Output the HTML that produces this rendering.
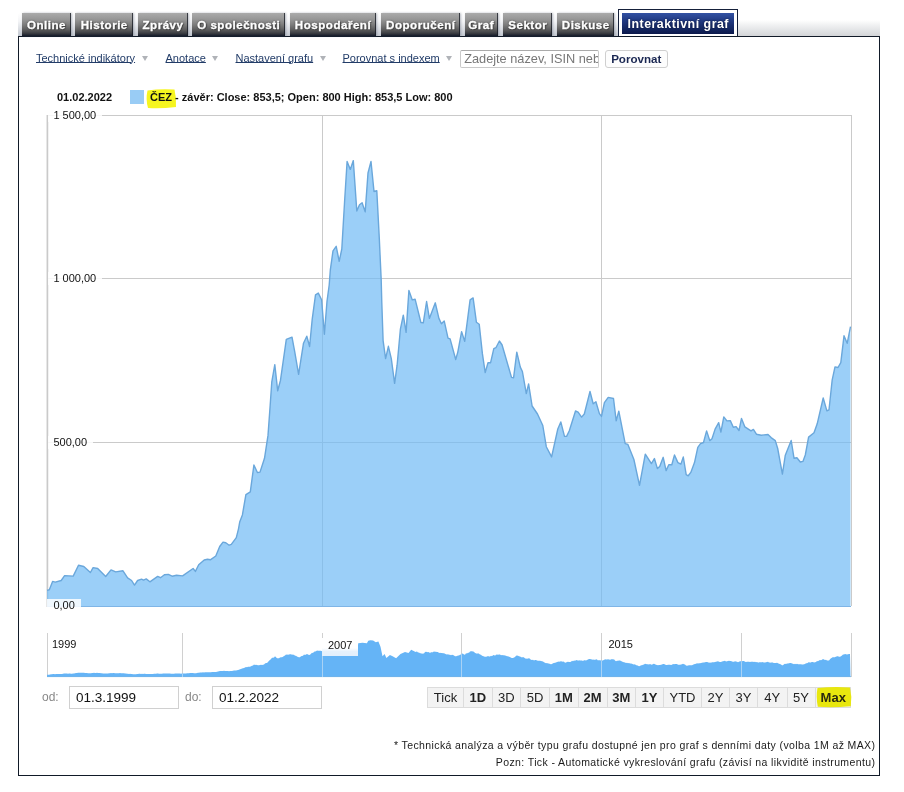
<!DOCTYPE html>
<html lang="cs"><head><meta charset="utf-8"><title>Interaktivní graf</title>
<style>
html,body{margin:0;padding:0;background:#fff;}
body{width:904px;height:792px;position:relative;overflow:hidden;will-change:transform;font-family:"Liberation Sans",sans-serif;color:#000;}
.abs{position:absolute;}
.tabstrip{position:absolute;left:18px;top:13px;width:600px;height:23px;background:linear-gradient(#fff 0%,#f4f5f7 35%,#c3c8d0 100%);}
.tab{position:absolute;top:13px;height:23px;box-sizing:border-box;background:linear-gradient(#ababab 0%,#969696 28%,#7b7b7b 52%,#5a5a5b 74%,#3b3d42 88%,#141a29 100%);
 color:#fff;font-weight:bold;font-size:11.6px;letter-spacing:.5px;padding-left:1.5px;line-height:23.5px;-webkit-text-stroke:.3px #fff;text-align:center;white-space:nowrap;text-shadow:0 0 2px #333,1px 1px 1px #444;
 border-right:1px solid rgba(20,24,34,.75);box-shadow:1px 0 2px rgba(60,70,90,.35);}
.tabgrad{position:absolute;left:738px;top:20px;width:142px;height:16px;background:linear-gradient(#fff 0%,#f1f2f3 30%,#d3d5d8 100%);}
.acttab{position:absolute;left:618px;top:9px;width:120px;height:27px;box-sizing:border-box;border:1px solid #15203a;border-bottom:none;background:#fff;}
.acttab i{position:absolute;left:3px;top:3px;right:3px;bottom:2px;background:linear-gradient(#3352a3 0%,#20387f 40%,#0c1a4c 100%);}
.acttab span{position:absolute;left:0;right:0;top:4px;text-align:center;color:#fff;font-weight:bold;font-size:12.4px;letter-spacing:.5px;padding-left:.5px;line-height:21.5px;white-space:nowrap;text-shadow:0 0 2px #0a1230;}
.panel{position:absolute;left:18px;top:36px;width:862px;height:740px;box-sizing:border-box;border:1px solid #111a28;background:#fff;}
.lnk{position:absolute;top:51px;font-size:11px;line-height:14px;color:#223c68;text-decoration:underline;text-decoration-thickness:1px;text-underline-offset:0px;white-space:nowrap;}
.arr{position:absolute;top:56px;width:0;height:0;border-left:3.5px solid transparent;border-right:3.5px solid transparent;border-top:5px solid #b0b3b8;}
.inp{position:absolute;left:460px;top:50px;width:138.5px;height:18px;box-sizing:border-box;border:1px solid #c9c9c9;border-top-color:#aaa;border-radius:2px;background:#fff;font-size:12.75px;line-height:16px;color:#777;padding-left:3.2px;white-space:nowrap;overflow:hidden;}
.cmp{position:absolute;left:604.5px;top:50px;width:63.5px;height:18px;box-sizing:border-box;border:1px solid #cfcfcf;border-radius:3px;background:#fdfdfd;font-size:11.6px;font-weight:bold;line-height:16px;color:#1a2752;text-align:center;}
.leg{position:absolute;top:90px;font-size:11px;font-weight:bold;line-height:14px;white-space:nowrap;color:#111;}
.yl{position:absolute;left:48.4px;font-size:11px;line-height:13px;background:rgba(255,255,255,.85);padding:0 6px 0 5px;white-space:nowrap;color:#111;}
.nl{position:absolute;font-size:11px;line-height:15px;color:#111;white-space:nowrap;}
.dl{position:absolute;top:690px;font-size:12px;line-height:15px;color:#888;}
.di{position:absolute;top:686px;height:23px;width:110px;box-sizing:border-box;border:1px solid #d0d0d0;background:#fff;font-size:13.5px;line-height:21px;padding-left:6px;color:#111;}
.btn{position:absolute;top:687px;height:21px;box-sizing:border-box;border:1px solid #dcdcdc;border-left:none;background:#f3f3f3;font-size:13px;line-height:19px;text-align:center;color:#222;}
.btn.b{font-weight:bold;}
.foot{position:absolute;right:28.6px;font-size:10.5px;letter-spacing:.39px;line-height:13px;color:#1a1a1a;white-space:nowrap;text-align:right;}
</style></head><body>
<div class="tabstrip"></div>
<div class="tabgrad"></div>
<div class="panel"></div>
<div class="tab" style="left:22px;width:48.5px"><span>Online</span></div>
<div class="tab" style="left:75px;width:58px"><span>Historie</span></div>
<div class="tab" style="left:138px;width:49.5px"><span>Zprávy</span></div>
<div class="tab" style="left:192px;width:93px"><span>O společnosti</span></div>
<div class="tab" style="left:289.5px;width:86.5px"><span>Hospodaření</span></div>
<div class="tab" style="left:381px;width:79px"><span>Doporučení</span></div>
<div class="tab" style="left:464.5px;width:33.0px"><span>Graf</span></div>
<div class="tab" style="left:503px;width:49px"><span>Sektor</span></div>
<div class="tab" style="left:557px;width:57px"><span>Diskuse</span></div>

<div class="acttab"><i></i><span>Interaktivní graf</span></div>

<div class="lnk" id="l1" style="left:36px">Technické indikátory</div><div class="arr" style="left:142px"></div>
<div class="lnk" id="l2" style="left:165.5px">Anotace</div><div class="arr" style="left:212px"></div>
<div class="lnk" id="l3" style="left:235.5px">Nastavení grafu</div><div class="arr" style="left:320px"></div>
<div class="lnk" id="l4" style="left:342.5px">Porovnat s indexem</div><div class="arr" style="left:446px"></div>
<div class="inp">Zadejte název, ISIN nebo ticker</div>
<div class="cmp">Porovnat</div>

<svg class="abs" style="left:0;top:0" width="904" height="792" viewBox="0 0 904 792">
 <!-- grid -->
 <g stroke="#cacaca" stroke-width="1" fill="none" shape-rendering="crispEdges">
  <line x1="48" y1="115.5" x2="851" y2="115.5"/>
  <line x1="48" y1="278.5" x2="851" y2="278.5"/>
  <line x1="48" y1="442.5" x2="851" y2="442.5"/>
  <line x1="322.5" y1="115" x2="322.5" y2="606"/>
  <line x1="601.5" y1="115" x2="601.5" y2="606"/>
  <line x1="851.5" y1="115" x2="851.5" y2="606"/>
 </g>
 <line x1="47.4" y1="115" x2="47.4" y2="607" stroke="#cacaca" stroke-width="1.7"/>
 <path d="M47.0,590.4 L49.3,589.8 L52.6,581.4 L55.3,582.2 L61.2,580.5 L64.6,575.6 L73.2,576.1 L78.5,565.2 L83.8,566.5 L90.4,572.5 L93.1,567.6 L97.7,568.5 L105.7,576.5 L111.0,569.9 L115.7,571.9 L123.0,570.8 L127.6,577.8 L131.6,580.5 L134.5,585.1 L137.6,580.5 L141.6,579.2 L143.5,580.1 L146.2,578.9 L149.9,581.8 L157.7,576.4 L160.5,577.7 L164.4,574.8 L168.3,574.4 L172.1,576.2 L176.5,575.3 L182.6,575.9 L193.1,568.5 L195.4,571.4 L198.7,564.8 L204.2,560.0 L207.5,559.3 L210.3,559.8 L215.8,556.0 L219.7,546.5 L223.0,542.1 L225.8,542.7 L229.1,545.2 L231.3,544.3 L236.3,537.7 L238.5,528.8 L239.7,522.0 L242.4,514.9 L245.9,494.6 L250.3,491.9 L253.9,465.0 L257.4,472.5 L260.0,472.1 L264.5,458.3 L268.0,435.4 L270.2,405.0 L271.8,381.8 L274.8,364.6 L277.7,390.8 L280.5,380.2 L286.3,339.4 L292.0,337.1 L294.8,352.2 L298.6,374.4 L303.5,343.2 L306.8,336.2 L309.6,346.5 L312.2,319.4 L315.5,294.8 L318.3,293.1 L321.6,299.7 L324.4,334.2 L327.0,301.3 L329.2,285.0 L330.3,270.2 L333.0,250.8 L336.2,246.3 L339.2,261.4 L341.8,249.0 L344.5,203.0 L347.1,161.5 L350.3,169.4 L353.3,160.6 L356.8,211.0 L359.5,204.8 L362.1,202.7 L365.2,211.9 L368.0,173.0 L371.0,161.5 L374.0,191.5 L376.8,190.7 L379.3,238.4 L381.2,280.0 L381.8,302.8 L383.1,340.6 L385.6,358.6 L388.4,346.3 L391.3,358.6 L394.6,383.3 L397.1,365.2 L400.4,329.1 L403.3,315.1 L406.1,332.4 L408.9,290.5 L412.3,299.9 L415.1,299.2 L420.9,322.5 L423.3,322.9 L426.6,301.5 L429.4,318.4 L435.3,302.8 L438.9,318.4 L441.4,323.8 L444.2,320.9 L448.0,338.1 L450.1,338.9 L455.7,359.5 L457.8,352.1 L461.6,331.6 L464.7,341.4 L470.1,299.9 L473.1,297.9 L476.4,322.2 L479.2,324.2 L482.4,353.7 L485.2,372.6 L488.0,362.7 L490.6,362.7 L493.8,348.6 L495.9,347.7 L499.4,341.0 L502.1,345.0 L511.5,377.4 L513.6,377.7 L516.8,352.1 L520.3,367.1 L522.4,371.5 L526.3,393.6 L528.6,383.9 L532.1,406.0 L537.5,414.0 L542.8,425.5 L546.3,446.7 L551.6,456.9 L557.8,429.0 L560.8,421.9 L564.5,436.4 L566.6,436.4 L569.3,430.8 L575.5,411.0 L578.1,412.2 L581.6,417.1 L584.3,414.0 L590.0,391.5 L593.2,403.8 L595.9,401.7 L599.4,413.6 L601.5,416.4 L604.4,402.7 L608.2,397.4 L613.5,398.5 L616.2,420.9 L618.8,411.1 L625.2,443.6 L627.9,444.4 L633.9,459.5 L639.5,485.3 L645.3,454.2 L651.4,463.6 L654.4,458.5 L657.4,468.6 L659.7,466.4 L663.2,457.3 L666.1,470.6 L668.8,464.8 L671.8,464.8 L674.5,455.0 L677.9,462.6 L680.9,464.1 L683.3,457.0 L686.2,474.7 L688.2,475.8 L690.8,472.4 L694.5,462.6 L697.8,447.3 L700.5,443.7 L703.5,442.5 L706.6,430.9 L709.8,440.6 L712.0,438.8 L715.1,429.1 L718.7,422.7 L720.9,432.1 L723.8,416.9 L726.9,420.9 L730.3,420.6 L733.3,427.2 L736.1,426.6 L739.0,430.5 L741.5,418.4 L744.9,426.9 L751.0,430.9 L753.4,429.4 L756.4,434.2 L761.3,435.2 L768.0,434.5 L771.1,437.6 L775.3,440.6 L777.7,448.5 L782.4,474.1 L785.3,455.2 L791.2,440.5 L794.0,458.2 L796.9,457.7 L800.3,462.0 L802.9,461.4 L805.3,455.0 L808.6,437.1 L814.0,432.8 L817.2,423.8 L823.2,398.0 L826.9,410.9 L829.0,409.8 L832.2,379.8 L835.0,366.9 L838.0,367.5 L840.8,362.6 L844.0,335.8 L847.2,343.3 L850.5,326.7 L850.5,606.0 L47.0,606.0 Z" fill="#70baf5" fill-opacity="0.7" stroke="none"/>
 <path d="M47.0,590.4 L49.3,589.8 L52.6,581.4 L55.3,582.2 L61.2,580.5 L64.6,575.6 L73.2,576.1 L78.5,565.2 L83.8,566.5 L90.4,572.5 L93.1,567.6 L97.7,568.5 L105.7,576.5 L111.0,569.9 L115.7,571.9 L123.0,570.8 L127.6,577.8 L131.6,580.5 L134.5,585.1 L137.6,580.5 L141.6,579.2 L143.5,580.1 L146.2,578.9 L149.9,581.8 L157.7,576.4 L160.5,577.7 L164.4,574.8 L168.3,574.4 L172.1,576.2 L176.5,575.3 L182.6,575.9 L193.1,568.5 L195.4,571.4 L198.7,564.8 L204.2,560.0 L207.5,559.3 L210.3,559.8 L215.8,556.0 L219.7,546.5 L223.0,542.1 L225.8,542.7 L229.1,545.2 L231.3,544.3 L236.3,537.7 L238.5,528.8 L239.7,522.0 L242.4,514.9 L245.9,494.6 L250.3,491.9 L253.9,465.0 L257.4,472.5 L260.0,472.1 L264.5,458.3 L268.0,435.4 L270.2,405.0 L271.8,381.8 L274.8,364.6 L277.7,390.8 L280.5,380.2 L286.3,339.4 L292.0,337.1 L294.8,352.2 L298.6,374.4 L303.5,343.2 L306.8,336.2 L309.6,346.5 L312.2,319.4 L315.5,294.8 L318.3,293.1 L321.6,299.7 L324.4,334.2 L327.0,301.3 L329.2,285.0 L330.3,270.2 L333.0,250.8 L336.2,246.3 L339.2,261.4 L341.8,249.0 L344.5,203.0 L347.1,161.5 L350.3,169.4 L353.3,160.6 L356.8,211.0 L359.5,204.8 L362.1,202.7 L365.2,211.9 L368.0,173.0 L371.0,161.5 L374.0,191.5 L376.8,190.7 L379.3,238.4 L381.2,280.0 L381.8,302.8 L383.1,340.6 L385.6,358.6 L388.4,346.3 L391.3,358.6 L394.6,383.3 L397.1,365.2 L400.4,329.1 L403.3,315.1 L406.1,332.4 L408.9,290.5 L412.3,299.9 L415.1,299.2 L420.9,322.5 L423.3,322.9 L426.6,301.5 L429.4,318.4 L435.3,302.8 L438.9,318.4 L441.4,323.8 L444.2,320.9 L448.0,338.1 L450.1,338.9 L455.7,359.5 L457.8,352.1 L461.6,331.6 L464.7,341.4 L470.1,299.9 L473.1,297.9 L476.4,322.2 L479.2,324.2 L482.4,353.7 L485.2,372.6 L488.0,362.7 L490.6,362.7 L493.8,348.6 L495.9,347.7 L499.4,341.0 L502.1,345.0 L511.5,377.4 L513.6,377.7 L516.8,352.1 L520.3,367.1 L522.4,371.5 L526.3,393.6 L528.6,383.9 L532.1,406.0 L537.5,414.0 L542.8,425.5 L546.3,446.7 L551.6,456.9 L557.8,429.0 L560.8,421.9 L564.5,436.4 L566.6,436.4 L569.3,430.8 L575.5,411.0 L578.1,412.2 L581.6,417.1 L584.3,414.0 L590.0,391.5 L593.2,403.8 L595.9,401.7 L599.4,413.6 L601.5,416.4 L604.4,402.7 L608.2,397.4 L613.5,398.5 L616.2,420.9 L618.8,411.1 L625.2,443.6 L627.9,444.4 L633.9,459.5 L639.5,485.3 L645.3,454.2 L651.4,463.6 L654.4,458.5 L657.4,468.6 L659.7,466.4 L663.2,457.3 L666.1,470.6 L668.8,464.8 L671.8,464.8 L674.5,455.0 L677.9,462.6 L680.9,464.1 L683.3,457.0 L686.2,474.7 L688.2,475.8 L690.8,472.4 L694.5,462.6 L697.8,447.3 L700.5,443.7 L703.5,442.5 L706.6,430.9 L709.8,440.6 L712.0,438.8 L715.1,429.1 L718.7,422.7 L720.9,432.1 L723.8,416.9 L726.9,420.9 L730.3,420.6 L733.3,427.2 L736.1,426.6 L739.0,430.5 L741.5,418.4 L744.9,426.9 L751.0,430.9 L753.4,429.4 L756.4,434.2 L761.3,435.2 L768.0,434.5 L771.1,437.6 L775.3,440.6 L777.7,448.5 L782.4,474.1 L785.3,455.2 L791.2,440.5 L794.0,458.2 L796.9,457.7 L800.3,462.0 L802.9,461.4 L805.3,455.0 L808.6,437.1 L814.0,432.8 L817.2,423.8 L823.2,398.0 L826.9,410.9 L829.0,409.8 L832.2,379.8 L835.0,366.9 L838.0,367.5 L840.8,362.6 L844.0,335.8 L847.2,343.3 L850.5,326.7" fill="none" stroke="#6aa7db" stroke-width="1.4" stroke-linejoin="round"/>
 <line x1="47" y1="606.5" x2="851" y2="606.5" stroke="#7fb5e6" stroke-width="1"/>
 <!-- navigator -->
 <g stroke="#d0d0d0" stroke-width="1" fill="none" shape-rendering="crispEdges">
  <line x1="47.5" y1="633" x2="47.5" y2="677"/>
  <line x1="182.5" y1="633" x2="182.5" y2="677"/>
  <line x1="322.5" y1="633" x2="322.5" y2="677"/>
  <line x1="461.5" y1="633" x2="461.5" y2="677"/>
  <line x1="601.5" y1="633" x2="601.5" y2="677"/>
  <line x1="741.5" y1="633" x2="741.5" y2="677"/>
  <line x1="851.5" y1="633" x2="851.5" y2="677"/>
 </g>
 <clipPath id="nc"><path d="M47.0,674.76 L48.0,674.76 L49.0,674.68 L50.0,674.60 L51.0,674.34 L52.0,674.16 L53.0,674.09 L54.0,674.05 L55.0,674.14 L56.0,674.08 L57.0,674.11 L58.0,674.08 L59.0,674.01 L60.0,673.93 L61.0,674.01 L62.0,673.90 L63.0,673.72 L64.0,673.55 L65.0,673.54 L66.0,673.58 L67.0,673.48 L68.0,673.65 L69.0,673.51 L70.0,673.61 L71.0,673.64 L72.0,673.65 L73.0,673.62 L74.0,673.40 L75.0,673.35 L76.0,673.11 L77.0,672.94 L78.0,672.83 L79.0,672.72 L80.0,672.84 L81.0,672.86 L82.0,672.85 L83.0,672.77 L84.0,672.85 L85.0,672.95 L86.0,672.96 L87.0,673.06 L88.0,673.17 L89.0,673.14 L90.0,673.24 L91.0,673.26 L92.0,673.05 L93.0,672.92 L94.0,672.85 L95.0,672.89 L96.0,673.00 L97.0,672.87 L98.0,673.08 L99.0,673.10 L100.0,673.12 L101.0,673.31 L102.0,673.33 L103.0,673.49 L104.0,673.46 L105.0,673.52 L106.0,673.58 L107.0,673.43 L108.0,673.43 L109.0,673.26 L110.0,673.18 L111.0,673.08 L112.0,673.14 L113.0,673.10 L114.0,673.11 L115.0,673.24 L116.0,673.22 L117.0,673.32 L118.0,673.19 L119.0,673.19 L120.0,673.11 L121.0,673.13 L122.0,673.22 L123.0,673.19 L124.0,673.26 L125.0,673.50 L126.0,673.54 L127.0,673.71 L128.0,673.81 L129.0,673.88 L130.0,673.82 L131.0,673.97 L132.0,674.04 L133.0,674.14 L134.0,674.20 L135.0,674.32 L136.0,674.15 L137.0,674.01 L138.0,673.88 L139.0,673.86 L140.0,673.83 L141.0,673.89 L142.0,673.87 L143.0,673.92 L144.0,673.84 L145.0,673.79 L146.0,673.88 L147.0,673.92 L148.0,673.97 L149.0,674.04 L150.0,674.05 L151.0,673.98 L152.0,673.97 L153.0,673.96 L154.0,673.84 L155.0,673.79 L156.0,673.70 L157.0,673.58 L158.0,673.60 L159.0,673.66 L160.0,673.68 L161.0,673.66 L162.0,673.71 L163.0,673.50 L164.0,673.46 L165.0,673.42 L166.0,673.42 L167.0,673.49 L168.0,673.48 L169.0,673.55 L170.0,673.50 L171.0,673.63 L172.0,673.67 L173.0,673.64 L174.0,673.63 L175.0,673.58 L176.0,673.61 L177.0,673.62 L178.0,673.60 L179.0,673.62 L180.0,673.58 L181.0,673.65 L182.0,673.51 L183.0,673.53 L184.0,673.56 L185.0,673.48 L186.0,673.41 L187.0,673.35 L188.0,673.34 L189.0,673.15 L190.0,673.06 L191.0,673.11 L192.0,673.05 L193.0,673.07 L194.0,673.15 L195.0,673.20 L196.0,673.16 L197.0,672.89 L198.0,672.87 L199.0,672.77 L200.0,672.49 L201.0,672.52 L202.0,672.53 L203.0,672.37 L204.0,672.42 L205.0,672.28 L206.0,672.15 L207.0,672.16 L208.0,672.20 L209.0,672.32 L210.0,672.31 L211.0,672.32 L212.0,672.12 L213.0,672.12 L214.0,672.01 L215.0,672.06 L216.0,672.01 L217.0,671.66 L218.0,671.41 L219.0,671.25 L220.0,671.09 L221.0,670.98 L222.0,670.89 L223.0,670.94 L224.0,670.87 L225.0,670.93 L226.0,671.06 L227.0,671.12 L228.0,671.10 L229.0,671.17 L230.0,671.02 L231.0,670.91 L232.0,670.97 L233.0,670.72 L234.0,670.59 L235.0,670.50 L236.0,670.58 L237.0,670.37 L238.0,670.04 L239.0,669.67 L240.0,669.29 L241.0,668.91 L242.0,668.59 L243.0,668.24 L244.0,667.93 L245.0,667.38 L246.0,666.88 L247.0,667.19 L248.0,666.85 L249.0,666.67 L250.0,666.69 L251.0,666.26 L252.0,665.80 L253.0,665.38 L254.0,664.49 L255.0,664.94 L256.0,664.83 L257.0,664.91 L258.0,665.31 L259.0,665.29 L260.0,664.96 L261.0,664.84 L262.0,664.93 L263.0,664.71 L264.0,664.46 L265.0,663.58 L266.0,663.11 L267.0,663.04 L268.0,662.03 L269.0,660.77 L270.0,659.91 L271.0,659.02 L272.0,657.81 L273.0,657.76 L274.0,657.42 L275.0,656.24 L276.0,657.29 L277.0,658.14 L278.0,658.19 L279.0,658.34 L280.0,657.62 L281.0,657.22 L282.0,657.26 L283.0,656.66 L284.0,656.06 L285.0,655.56 L286.0,654.61 L287.0,654.79 L288.0,654.57 L289.0,654.87 L290.0,653.96 L291.0,654.55 L292.0,654.40 L293.0,654.70 L294.0,654.78 L295.0,655.75 L296.0,655.70 L297.0,656.60 L298.0,657.04 L299.0,657.13 L300.0,657.13 L301.0,656.19 L302.0,655.95 L303.0,655.64 L304.0,654.43 L305.0,654.96 L306.0,654.45 L307.0,654.09 L308.0,654.57 L309.0,655.12 L310.0,654.75 L311.0,653.87 L312.0,652.76 L313.0,652.93 L314.0,651.77 L315.0,651.57 L316.0,651.21 L317.0,650.52 L318.0,650.82 L319.0,650.84 L320.0,650.75 L321.0,650.72 L322.0,651.20 L340.0,651.00 L357.5,651.00 L358.2,643.30 L362.5,642.70 L366.9,643.30 L368.3,640.80 L370.5,640.20 L373.1,640.60 L375.8,642.20 L378.4,641.50 L380.5,646.80 L382.5,656.30 L384.6,653.90 L386.4,658.00 L389.9,655.10 L392.6,656.20 L396.1,658.30 L400.5,653.90 L405.0,652.10 L408.5,653.00 L411.2,649.80 L415.6,652.10 L416.0,651.84 L417.0,651.59 L418.0,652.50 L419.0,652.56 L420.0,653.28 L421.0,653.36 L422.0,653.77 L423.0,653.50 L424.0,653.43 L425.0,652.04 L426.0,651.74 L427.0,652.08 L428.0,652.20 L429.0,652.12 L430.0,653.20 L431.0,652.12 L432.0,652.38 L433.0,652.09 L434.0,651.45 L435.0,651.79 L436.0,651.83 L437.0,651.95 L438.0,651.94 L439.0,653.06 L440.0,652.64 L441.0,652.97 L442.0,653.07 L443.0,653.26 L444.0,653.25 L445.0,653.87 L446.0,654.14 L447.0,654.56 L448.0,654.16 L449.0,654.74 L450.0,654.87 L451.0,655.23 L452.0,654.69 L453.0,654.96 L454.0,655.47 L455.0,656.18 L456.0,656.34 L457.0,656.01 L458.0,655.52 L459.0,655.42 L460.0,654.67 L461.0,654.44 L462.0,653.48 L463.0,653.73 L464.0,654.47 L465.0,654.80 L466.0,653.36 L467.0,653.50 L468.0,652.83 L469.0,652.66 L470.0,651.57 L471.0,651.34 L472.0,651.25 L473.0,651.59 L474.0,651.73 L475.0,652.94 L476.0,653.20 L477.0,653.68 L478.0,653.37 L479.0,653.85 L480.0,654.46 L481.0,654.87 L482.0,655.68 L483.0,655.93 L484.0,656.53 L485.0,656.85 L486.0,656.83 L487.0,656.48 L488.0,656.02 L489.0,656.53 L490.0,656.59 L491.0,655.77 L492.0,656.29 L493.0,655.32 L494.0,655.12 L495.0,655.73 L496.0,654.83 L497.0,654.61 L498.0,654.74 L499.0,654.47 L500.0,654.39 L501.0,655.26 L502.0,654.95 L503.0,655.23 L504.0,655.16 L505.0,655.47 L506.0,655.73 L507.0,656.26 L508.0,656.23 L509.0,656.72 L510.0,656.99 L511.0,657.72 L512.0,658.06 L513.0,657.97 L514.0,657.50 L515.0,657.12 L516.0,655.72 L517.0,655.57 L518.0,655.84 L519.0,656.19 L520.0,656.48 L521.0,656.90 L522.0,657.55 L523.0,657.10 L524.0,657.61 L525.0,658.31 L526.0,658.73 L527.0,658.52 L528.0,658.73 L529.0,658.10 L530.0,659.06 L531.0,659.72 L532.0,660.05 L533.0,659.81 L534.0,660.38 L535.0,660.04 L536.0,659.97 L537.0,660.49 L538.0,660.73 L539.0,660.82 L540.0,660.83 L541.0,660.94 L542.0,661.24 L543.0,661.46 L544.0,662.37 L545.0,662.80 L546.0,663.20 L547.0,663.12 L548.0,663.57 L549.0,663.55 L550.0,664.07 L551.0,664.19 L552.0,664.00 L553.0,663.37 L554.0,662.99 L555.0,662.64 L556.0,662.56 L557.0,662.03 L558.0,661.74 L559.0,661.55 L560.0,661.63 L561.0,660.93 L562.0,661.79 L563.0,661.51 L564.0,661.87 L565.0,662.70 L566.0,662.38 L567.0,662.04 L568.0,661.77 L569.0,661.98 L570.0,661.89 L571.0,661.68 L572.0,660.85 L573.0,661.18 L574.0,660.62 L575.0,660.73 L576.0,660.30 L577.0,659.98 L578.0,660.70 L579.0,660.24 L580.0,660.61 L581.0,660.41 L582.0,660.59 L583.0,660.88 L584.0,660.25 L585.0,660.33 L586.0,660.41 L587.0,660.12 L588.0,659.38 L589.0,659.09 L590.0,658.91 L591.0,659.36 L592.0,659.49 L593.0,659.82 L594.0,659.38 L595.0,660.04 L596.0,659.36 L597.0,659.56 L598.0,660.45 L599.0,660.05 L600.0,660.40 L601.0,660.36 L602.0,660.72 L603.0,660.27 L604.0,659.88 L605.0,659.13 L606.0,659.38 L607.0,659.47 L608.0,659.29 L609.0,659.42 L610.0,659.64 L611.0,659.61 L612.0,658.97 L613.0,659.48 L614.0,659.25 L615.0,660.51 L616.0,661.15 L617.0,660.85 L618.0,660.81 L619.0,660.50 L620.0,660.43 L621.0,660.91 L622.0,661.38 L623.0,661.93 L624.0,662.14 L625.0,662.53 L626.0,662.91 L627.0,662.82 L628.0,663.33 L629.0,663.05 L630.0,663.45 L631.0,663.45 L632.0,663.73 L633.0,664.16 L634.0,664.53 L635.0,664.35 L636.0,665.21 L637.0,665.37 L638.0,665.82 L639.0,666.21 L640.0,665.94 L641.0,665.37 L642.0,665.35 L643.0,664.68 L644.0,664.47 L645.0,663.87 L646.0,663.94 L647.0,664.21 L648.0,664.33 L649.0,664.43 L650.0,664.11 L651.0,664.49 L652.0,664.63 L653.0,664.06 L654.0,663.86 L655.0,664.32 L656.0,664.78 L657.0,665.02 L658.0,665.14 L659.0,664.91 L660.0,664.95 L661.0,664.65 L662.0,664.43 L663.0,664.03 L664.0,664.08 L665.0,664.54 L666.0,665.12 L667.0,665.00 L668.0,664.76 L669.0,664.71 L670.0,664.73 L671.0,664.90 L672.0,664.71 L673.0,663.99 L674.0,664.23 L675.0,663.93 L676.0,664.03 L677.0,664.06 L678.0,664.64 L679.0,664.64 L680.0,664.70 L681.0,664.62 L682.0,664.35 L683.0,663.78 L684.0,664.13 L685.0,664.61 L686.0,665.61 L687.0,665.74 L688.0,665.39 L689.0,665.21 L690.0,665.35 L691.0,665.15 L692.0,665.29 L693.0,664.84 L694.0,664.30 L695.0,664.06 L696.0,663.66 L697.0,663.21 L698.0,663.38 L699.0,663.37 L700.0,663.23 L701.0,662.90 L702.0,662.76 L703.0,662.54 L704.0,662.53 L705.0,662.28 L706.0,661.89 L707.0,662.03 L708.0,662.21 L709.0,662.82 L710.0,662.47 L711.0,662.80 L712.0,662.24 L713.0,662.18 L714.0,662.18 L715.0,662.07 L716.0,661.82 L717.0,661.38 L718.0,661.19 L719.0,661.65 L720.0,662.02 L721.0,661.94 L722.0,661.47 L723.0,661.20 L724.0,661.02 L725.0,660.82 L726.0,661.40 L727.0,661.26 L728.0,661.12 L729.0,660.72 L730.0,660.96 L731.0,660.90 L732.0,661.40 L733.0,661.76 L734.0,661.79 L735.0,661.22 L736.0,661.40 L737.0,661.80 L738.0,662.13 L739.0,661.87 L740.0,661.35 L741.0,661.16 L742.0,661.19 L743.0,661.07 L744.0,661.07 L745.0,661.80 L746.0,662.00 L747.0,661.82 L748.0,661.81 L749.0,661.66 L750.0,662.08 L751.0,661.68 L752.0,661.67 L753.0,661.80 L754.0,662.08 L755.0,661.64 L756.0,662.26 L757.0,661.94 L758.0,662.40 L759.0,662.42 L760.0,662.04 L761.0,662.40 L762.0,661.91 L763.0,662.24 L764.0,662.46 L765.0,662.42 L766.0,662.27 L767.0,662.08 L768.0,661.86 L769.0,662.54 L770.0,662.43 L771.0,662.64 L772.0,662.15 L773.0,662.81 L774.0,662.93 L775.0,662.98 L776.0,662.95 L777.0,662.86 L778.0,663.19 L779.0,663.74 L780.0,664.01 L781.0,664.50 L782.0,665.31 L783.0,665.25 L784.0,664.27 L785.0,663.86 L786.0,664.03 L787.0,663.41 L788.0,663.40 L789.0,663.21 L790.0,663.04 L791.0,662.95 L792.0,663.43 L793.0,663.74 L794.0,664.20 L795.0,663.79 L796.0,664.32 L797.0,663.77 L798.0,664.36 L799.0,664.37 L800.0,664.17 L801.0,664.19 L802.0,664.42 L803.0,664.62 L804.0,664.14 L805.0,663.99 L806.0,663.26 L807.0,663.32 L808.0,662.76 L809.0,662.09 L810.0,662.66 L811.0,662.32 L812.0,661.95 L813.0,661.92 L814.0,662.40 L815.0,662.18 L816.0,661.94 L817.0,661.05 L818.0,661.25 L819.0,660.51 L820.0,660.03 L821.0,660.15 L822.0,659.87 L823.0,658.92 L824.0,659.38 L825.0,659.97 L826.0,659.86 L827.0,660.44 L828.0,660.44 L829.0,660.62 L830.0,659.23 L831.0,658.32 L832.0,657.81 L833.0,657.06 L834.0,657.60 L835.0,657.02 L836.0,656.79 L837.0,656.32 L838.0,656.34 L839.0,656.78 L840.0,656.77 L841.0,656.34 L842.0,655.60 L843.0,654.45 L844.0,654.61 L845.0,654.10 L846.0,654.36 L847.0,654.46 L848.0,654.22 L849.0,654.00 L850.0,653.92 L850.5,677.0 L47,677.0 Z"/></clipPath>
 <path d="M47.0,674.76 L48.0,674.76 L49.0,674.68 L50.0,674.60 L51.0,674.34 L52.0,674.16 L53.0,674.09 L54.0,674.05 L55.0,674.14 L56.0,674.08 L57.0,674.11 L58.0,674.08 L59.0,674.01 L60.0,673.93 L61.0,674.01 L62.0,673.90 L63.0,673.72 L64.0,673.55 L65.0,673.54 L66.0,673.58 L67.0,673.48 L68.0,673.65 L69.0,673.51 L70.0,673.61 L71.0,673.64 L72.0,673.65 L73.0,673.62 L74.0,673.40 L75.0,673.35 L76.0,673.11 L77.0,672.94 L78.0,672.83 L79.0,672.72 L80.0,672.84 L81.0,672.86 L82.0,672.85 L83.0,672.77 L84.0,672.85 L85.0,672.95 L86.0,672.96 L87.0,673.06 L88.0,673.17 L89.0,673.14 L90.0,673.24 L91.0,673.26 L92.0,673.05 L93.0,672.92 L94.0,672.85 L95.0,672.89 L96.0,673.00 L97.0,672.87 L98.0,673.08 L99.0,673.10 L100.0,673.12 L101.0,673.31 L102.0,673.33 L103.0,673.49 L104.0,673.46 L105.0,673.52 L106.0,673.58 L107.0,673.43 L108.0,673.43 L109.0,673.26 L110.0,673.18 L111.0,673.08 L112.0,673.14 L113.0,673.10 L114.0,673.11 L115.0,673.24 L116.0,673.22 L117.0,673.32 L118.0,673.19 L119.0,673.19 L120.0,673.11 L121.0,673.13 L122.0,673.22 L123.0,673.19 L124.0,673.26 L125.0,673.50 L126.0,673.54 L127.0,673.71 L128.0,673.81 L129.0,673.88 L130.0,673.82 L131.0,673.97 L132.0,674.04 L133.0,674.14 L134.0,674.20 L135.0,674.32 L136.0,674.15 L137.0,674.01 L138.0,673.88 L139.0,673.86 L140.0,673.83 L141.0,673.89 L142.0,673.87 L143.0,673.92 L144.0,673.84 L145.0,673.79 L146.0,673.88 L147.0,673.92 L148.0,673.97 L149.0,674.04 L150.0,674.05 L151.0,673.98 L152.0,673.97 L153.0,673.96 L154.0,673.84 L155.0,673.79 L156.0,673.70 L157.0,673.58 L158.0,673.60 L159.0,673.66 L160.0,673.68 L161.0,673.66 L162.0,673.71 L163.0,673.50 L164.0,673.46 L165.0,673.42 L166.0,673.42 L167.0,673.49 L168.0,673.48 L169.0,673.55 L170.0,673.50 L171.0,673.63 L172.0,673.67 L173.0,673.64 L174.0,673.63 L175.0,673.58 L176.0,673.61 L177.0,673.62 L178.0,673.60 L179.0,673.62 L180.0,673.58 L181.0,673.65 L182.0,673.51 L183.0,673.53 L184.0,673.56 L185.0,673.48 L186.0,673.41 L187.0,673.35 L188.0,673.34 L189.0,673.15 L190.0,673.06 L191.0,673.11 L192.0,673.05 L193.0,673.07 L194.0,673.15 L195.0,673.20 L196.0,673.16 L197.0,672.89 L198.0,672.87 L199.0,672.77 L200.0,672.49 L201.0,672.52 L202.0,672.53 L203.0,672.37 L204.0,672.42 L205.0,672.28 L206.0,672.15 L207.0,672.16 L208.0,672.20 L209.0,672.32 L210.0,672.31 L211.0,672.32 L212.0,672.12 L213.0,672.12 L214.0,672.01 L215.0,672.06 L216.0,672.01 L217.0,671.66 L218.0,671.41 L219.0,671.25 L220.0,671.09 L221.0,670.98 L222.0,670.89 L223.0,670.94 L224.0,670.87 L225.0,670.93 L226.0,671.06 L227.0,671.12 L228.0,671.10 L229.0,671.17 L230.0,671.02 L231.0,670.91 L232.0,670.97 L233.0,670.72 L234.0,670.59 L235.0,670.50 L236.0,670.58 L237.0,670.37 L238.0,670.04 L239.0,669.67 L240.0,669.29 L241.0,668.91 L242.0,668.59 L243.0,668.24 L244.0,667.93 L245.0,667.38 L246.0,666.88 L247.0,667.19 L248.0,666.85 L249.0,666.67 L250.0,666.69 L251.0,666.26 L252.0,665.80 L253.0,665.38 L254.0,664.49 L255.0,664.94 L256.0,664.83 L257.0,664.91 L258.0,665.31 L259.0,665.29 L260.0,664.96 L261.0,664.84 L262.0,664.93 L263.0,664.71 L264.0,664.46 L265.0,663.58 L266.0,663.11 L267.0,663.04 L268.0,662.03 L269.0,660.77 L270.0,659.91 L271.0,659.02 L272.0,657.81 L273.0,657.76 L274.0,657.42 L275.0,656.24 L276.0,657.29 L277.0,658.14 L278.0,658.19 L279.0,658.34 L280.0,657.62 L281.0,657.22 L282.0,657.26 L283.0,656.66 L284.0,656.06 L285.0,655.56 L286.0,654.61 L287.0,654.79 L288.0,654.57 L289.0,654.87 L290.0,653.96 L291.0,654.55 L292.0,654.40 L293.0,654.70 L294.0,654.78 L295.0,655.75 L296.0,655.70 L297.0,656.60 L298.0,657.04 L299.0,657.13 L300.0,657.13 L301.0,656.19 L302.0,655.95 L303.0,655.64 L304.0,654.43 L305.0,654.96 L306.0,654.45 L307.0,654.09 L308.0,654.57 L309.0,655.12 L310.0,654.75 L311.0,653.87 L312.0,652.76 L313.0,652.93 L314.0,651.77 L315.0,651.57 L316.0,651.21 L317.0,650.52 L318.0,650.82 L319.0,650.84 L320.0,650.75 L321.0,650.72 L322.0,651.20 L340.0,651.00 L357.5,651.00 L358.2,643.30 L362.5,642.70 L366.9,643.30 L368.3,640.80 L370.5,640.20 L373.1,640.60 L375.8,642.20 L378.4,641.50 L380.5,646.80 L382.5,656.30 L384.6,653.90 L386.4,658.00 L389.9,655.10 L392.6,656.20 L396.1,658.30 L400.5,653.90 L405.0,652.10 L408.5,653.00 L411.2,649.80 L415.6,652.10 L416.0,651.84 L417.0,651.59 L418.0,652.50 L419.0,652.56 L420.0,653.28 L421.0,653.36 L422.0,653.77 L423.0,653.50 L424.0,653.43 L425.0,652.04 L426.0,651.74 L427.0,652.08 L428.0,652.20 L429.0,652.12 L430.0,653.20 L431.0,652.12 L432.0,652.38 L433.0,652.09 L434.0,651.45 L435.0,651.79 L436.0,651.83 L437.0,651.95 L438.0,651.94 L439.0,653.06 L440.0,652.64 L441.0,652.97 L442.0,653.07 L443.0,653.26 L444.0,653.25 L445.0,653.87 L446.0,654.14 L447.0,654.56 L448.0,654.16 L449.0,654.74 L450.0,654.87 L451.0,655.23 L452.0,654.69 L453.0,654.96 L454.0,655.47 L455.0,656.18 L456.0,656.34 L457.0,656.01 L458.0,655.52 L459.0,655.42 L460.0,654.67 L461.0,654.44 L462.0,653.48 L463.0,653.73 L464.0,654.47 L465.0,654.80 L466.0,653.36 L467.0,653.50 L468.0,652.83 L469.0,652.66 L470.0,651.57 L471.0,651.34 L472.0,651.25 L473.0,651.59 L474.0,651.73 L475.0,652.94 L476.0,653.20 L477.0,653.68 L478.0,653.37 L479.0,653.85 L480.0,654.46 L481.0,654.87 L482.0,655.68 L483.0,655.93 L484.0,656.53 L485.0,656.85 L486.0,656.83 L487.0,656.48 L488.0,656.02 L489.0,656.53 L490.0,656.59 L491.0,655.77 L492.0,656.29 L493.0,655.32 L494.0,655.12 L495.0,655.73 L496.0,654.83 L497.0,654.61 L498.0,654.74 L499.0,654.47 L500.0,654.39 L501.0,655.26 L502.0,654.95 L503.0,655.23 L504.0,655.16 L505.0,655.47 L506.0,655.73 L507.0,656.26 L508.0,656.23 L509.0,656.72 L510.0,656.99 L511.0,657.72 L512.0,658.06 L513.0,657.97 L514.0,657.50 L515.0,657.12 L516.0,655.72 L517.0,655.57 L518.0,655.84 L519.0,656.19 L520.0,656.48 L521.0,656.90 L522.0,657.55 L523.0,657.10 L524.0,657.61 L525.0,658.31 L526.0,658.73 L527.0,658.52 L528.0,658.73 L529.0,658.10 L530.0,659.06 L531.0,659.72 L532.0,660.05 L533.0,659.81 L534.0,660.38 L535.0,660.04 L536.0,659.97 L537.0,660.49 L538.0,660.73 L539.0,660.82 L540.0,660.83 L541.0,660.94 L542.0,661.24 L543.0,661.46 L544.0,662.37 L545.0,662.80 L546.0,663.20 L547.0,663.12 L548.0,663.57 L549.0,663.55 L550.0,664.07 L551.0,664.19 L552.0,664.00 L553.0,663.37 L554.0,662.99 L555.0,662.64 L556.0,662.56 L557.0,662.03 L558.0,661.74 L559.0,661.55 L560.0,661.63 L561.0,660.93 L562.0,661.79 L563.0,661.51 L564.0,661.87 L565.0,662.70 L566.0,662.38 L567.0,662.04 L568.0,661.77 L569.0,661.98 L570.0,661.89 L571.0,661.68 L572.0,660.85 L573.0,661.18 L574.0,660.62 L575.0,660.73 L576.0,660.30 L577.0,659.98 L578.0,660.70 L579.0,660.24 L580.0,660.61 L581.0,660.41 L582.0,660.59 L583.0,660.88 L584.0,660.25 L585.0,660.33 L586.0,660.41 L587.0,660.12 L588.0,659.38 L589.0,659.09 L590.0,658.91 L591.0,659.36 L592.0,659.49 L593.0,659.82 L594.0,659.38 L595.0,660.04 L596.0,659.36 L597.0,659.56 L598.0,660.45 L599.0,660.05 L600.0,660.40 L601.0,660.36 L602.0,660.72 L603.0,660.27 L604.0,659.88 L605.0,659.13 L606.0,659.38 L607.0,659.47 L608.0,659.29 L609.0,659.42 L610.0,659.64 L611.0,659.61 L612.0,658.97 L613.0,659.48 L614.0,659.25 L615.0,660.51 L616.0,661.15 L617.0,660.85 L618.0,660.81 L619.0,660.50 L620.0,660.43 L621.0,660.91 L622.0,661.38 L623.0,661.93 L624.0,662.14 L625.0,662.53 L626.0,662.91 L627.0,662.82 L628.0,663.33 L629.0,663.05 L630.0,663.45 L631.0,663.45 L632.0,663.73 L633.0,664.16 L634.0,664.53 L635.0,664.35 L636.0,665.21 L637.0,665.37 L638.0,665.82 L639.0,666.21 L640.0,665.94 L641.0,665.37 L642.0,665.35 L643.0,664.68 L644.0,664.47 L645.0,663.87 L646.0,663.94 L647.0,664.21 L648.0,664.33 L649.0,664.43 L650.0,664.11 L651.0,664.49 L652.0,664.63 L653.0,664.06 L654.0,663.86 L655.0,664.32 L656.0,664.78 L657.0,665.02 L658.0,665.14 L659.0,664.91 L660.0,664.95 L661.0,664.65 L662.0,664.43 L663.0,664.03 L664.0,664.08 L665.0,664.54 L666.0,665.12 L667.0,665.00 L668.0,664.76 L669.0,664.71 L670.0,664.73 L671.0,664.90 L672.0,664.71 L673.0,663.99 L674.0,664.23 L675.0,663.93 L676.0,664.03 L677.0,664.06 L678.0,664.64 L679.0,664.64 L680.0,664.70 L681.0,664.62 L682.0,664.35 L683.0,663.78 L684.0,664.13 L685.0,664.61 L686.0,665.61 L687.0,665.74 L688.0,665.39 L689.0,665.21 L690.0,665.35 L691.0,665.15 L692.0,665.29 L693.0,664.84 L694.0,664.30 L695.0,664.06 L696.0,663.66 L697.0,663.21 L698.0,663.38 L699.0,663.37 L700.0,663.23 L701.0,662.90 L702.0,662.76 L703.0,662.54 L704.0,662.53 L705.0,662.28 L706.0,661.89 L707.0,662.03 L708.0,662.21 L709.0,662.82 L710.0,662.47 L711.0,662.80 L712.0,662.24 L713.0,662.18 L714.0,662.18 L715.0,662.07 L716.0,661.82 L717.0,661.38 L718.0,661.19 L719.0,661.65 L720.0,662.02 L721.0,661.94 L722.0,661.47 L723.0,661.20 L724.0,661.02 L725.0,660.82 L726.0,661.40 L727.0,661.26 L728.0,661.12 L729.0,660.72 L730.0,660.96 L731.0,660.90 L732.0,661.40 L733.0,661.76 L734.0,661.79 L735.0,661.22 L736.0,661.40 L737.0,661.80 L738.0,662.13 L739.0,661.87 L740.0,661.35 L741.0,661.16 L742.0,661.19 L743.0,661.07 L744.0,661.07 L745.0,661.80 L746.0,662.00 L747.0,661.82 L748.0,661.81 L749.0,661.66 L750.0,662.08 L751.0,661.68 L752.0,661.67 L753.0,661.80 L754.0,662.08 L755.0,661.64 L756.0,662.26 L757.0,661.94 L758.0,662.40 L759.0,662.42 L760.0,662.04 L761.0,662.40 L762.0,661.91 L763.0,662.24 L764.0,662.46 L765.0,662.42 L766.0,662.27 L767.0,662.08 L768.0,661.86 L769.0,662.54 L770.0,662.43 L771.0,662.64 L772.0,662.15 L773.0,662.81 L774.0,662.93 L775.0,662.98 L776.0,662.95 L777.0,662.86 L778.0,663.19 L779.0,663.74 L780.0,664.01 L781.0,664.50 L782.0,665.31 L783.0,665.25 L784.0,664.27 L785.0,663.86 L786.0,664.03 L787.0,663.41 L788.0,663.40 L789.0,663.21 L790.0,663.04 L791.0,662.95 L792.0,663.43 L793.0,663.74 L794.0,664.20 L795.0,663.79 L796.0,664.32 L797.0,663.77 L798.0,664.36 L799.0,664.37 L800.0,664.17 L801.0,664.19 L802.0,664.42 L803.0,664.62 L804.0,664.14 L805.0,663.99 L806.0,663.26 L807.0,663.32 L808.0,662.76 L809.0,662.09 L810.0,662.66 L811.0,662.32 L812.0,661.95 L813.0,661.92 L814.0,662.40 L815.0,662.18 L816.0,661.94 L817.0,661.05 L818.0,661.25 L819.0,660.51 L820.0,660.03 L821.0,660.15 L822.0,659.87 L823.0,658.92 L824.0,659.38 L825.0,659.97 L826.0,659.86 L827.0,660.44 L828.0,660.44 L829.0,660.62 L830.0,659.23 L831.0,658.32 L832.0,657.81 L833.0,657.06 L834.0,657.60 L835.0,657.02 L836.0,656.79 L837.0,656.32 L838.0,656.34 L839.0,656.78 L840.0,656.77 L841.0,656.34 L842.0,655.60 L843.0,654.45 L844.0,654.61 L845.0,654.10 L846.0,654.36 L847.0,654.46 L848.0,654.22 L849.0,654.00 L850.0,653.92 L850.5,677.0 L47,677.0 Z" fill="#65b4f6"/>
 <line x1="47" y1="676.6" x2="851" y2="676.6" stroke="#74b2e6" stroke-width="0.8"/>
 <g stroke="#a9d2f5" stroke-width="1" fill="none" shape-rendering="crispEdges" clip-path="url(#nc)">
  <line x1="182.5" y1="633" x2="182.5" y2="677"/><line x1="322.5" y1="633" x2="322.5" y2="677"/><line x1="461.5" y1="633" x2="461.5" y2="677"/>
  <line x1="601.5" y1="633" x2="601.5" y2="677"/><line x1="741.5" y1="633" x2="741.5" y2="677"/>
 </g>
 <!-- highlights -->
 <path d="M147.5,90.5 Q160,88.5 174.5,89.5 Q176.5,98 176,107 Q160,109 148,108 Q145.5,99 147.5,90.5Z" fill="#f6f51f"/>
</svg>

<div class="leg" style="left:57px">01.02.2022</div>
<div class="abs" style="left:130px;top:90px;width:14px;height:14px;background:#99ccf5"></div>
<div class="leg" style="left:150px">ČEZ - závěr: Close: 853,5; Open: 800 High: 853,5 Low: 800</div>

<div class="yl" style="top:109px">1 500,00</div>
<div class="yl" style="top:272px">1 000,00</div>
<div class="yl" style="top:436px">500,00</div>
<div class="yl" style="top:599px;left:46.5px;padding-left:6.9px;padding-bottom:2px">0,00</div>

<div class="nl" style="left:52px;top:637px">1999</div>
<div class="nl" style="left:322px;top:638px;width:36px;height:18px;box-sizing:border-box;background:linear-gradient(#fff 0,#fff 10px,#e6f1fc 13.5px,#e2effc 18px);padding:0 0 0 6px">2007</div>
<div class="nl" style="left:608.5px;top:637px">2015</div>

<div class="dl" style="left:42px">od:</div><div class="di" style="left:69px">01.3.1999</div>
<div class="dl" style="left:185px">do:</div><div class="di" style="left:212px">01.2.2022</div>
<div class="btn" style="left:427px;width:1px;border:none;border-left:1px solid #dcdcdc;background:none"></div>
<div class="btn" style="left:428px;width:36px">Tick</div>
<div class="btn b" style="left:464px;width:28.5px">1D</div>
<div class="btn" style="left:492.5px;width:28.5px">3D</div>
<div class="btn" style="left:521px;width:29px">5D</div>
<div class="btn b" style="left:550px;width:28.5px">1M</div>
<div class="btn b" style="left:578.5px;width:29.0px">2M</div>
<div class="btn b" style="left:607.5px;width:28.5px">3M</div>
<div class="btn b" style="left:636px;width:28px">1Y</div>
<div class="btn" style="left:664px;width:38px">YTD</div>
<div class="btn" style="left:702px;width:28px">2Y</div>
<div class="btn" style="left:730px;width:28px">3Y</div>
<div class="btn" style="left:758px;width:29.5px">4Y</div>
<div class="btn" style="left:787.5px;width:28.0px">5Y</div>
<div class="btn b" style="left:815.5px;width:35.5px"></div>

<svg class="abs" style="left:810px;top:682px" width="50" height="30" viewBox="810 682 50 30"><path d="M817.5,688 Q834,686.2 850,687.5 Q852.2,697 850.8,706.2 Q833,707.8 817.8,706.8 Q815.8,697 817.5,688Z" fill="#e8e70e"/></svg>
<div class="abs" style="left:815.5px;top:688px;width:35.5px;text-align:center;font-size:13px;line-height:19px;font-weight:bold;color:#2a2a10">Max</div>
<div class="foot" id="f1" style="top:739px">* Technická analýza a výběr typu grafu dostupné jen pro graf s denními daty (volba 1M až MAX)</div>
<div class="foot" id="f2" style="top:756px">Pozn: Tick - Automatické vykreslování grafu (závisí na likviditě instrumentu)</div>
</body></html>
